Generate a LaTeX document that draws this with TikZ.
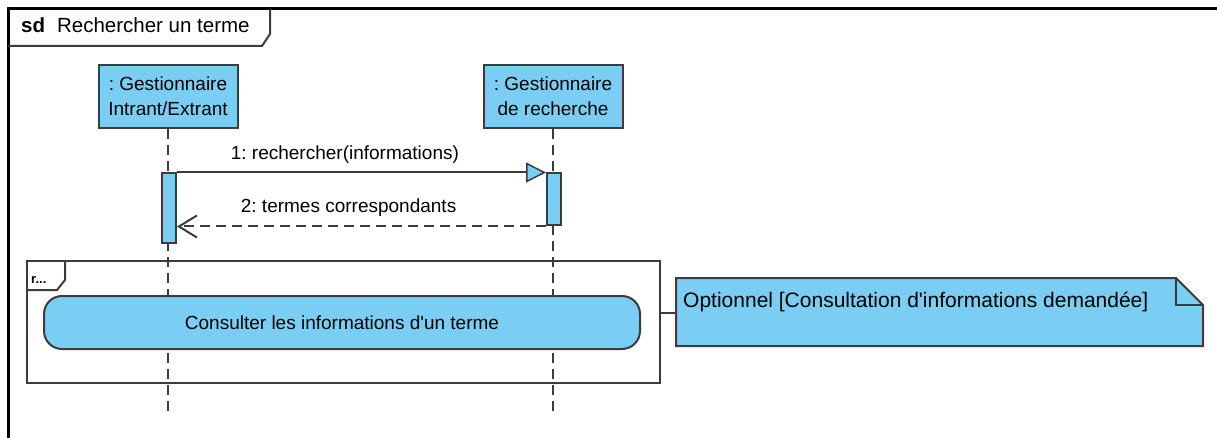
\documentclass[tikz,border=0pt]{standalone}
\usepackage{fontspec}
\setmainfont{Liberation Sans}
\usetikzlibrary{arrows.meta,shapes.geometric}
\definecolor{umlblue}{RGB}{122,206,244}
\definecolor{umlline}{RGB}{60,60,60}
\tikzset{
  lifebox/.style={draw=umlline, fill=umlblue, line width=2pt, align=center, inner sep=0pt, font=\fontsize{19}{25}\selectfont},
  lifeline/.style={draw=umlline, line width=2pt, dash pattern=on 10pt off 6pt},
  actbox/.style={draw=umlline, fill=umlblue, line width=2pt},
  msg/.style={draw=umlline, line width=2pt},
  lbl/.style={font=\fontsize{19}{22}\selectfont, inner sep=0pt},
  framebox/.style={draw=umlline, line width=2pt},
}
\begin{document}
\frenchspacing
\begin{tikzpicture}[x=1pt,y=-1pt]
\useasboundingbox (0,0) rectangle (1217,438);
% outer frame
\draw[line width=3pt] (8,438) -- (8,9) -- (1217,9);
\draw[line width=2pt, umlline] (8,46) -- (262,46) -- (270,34) -- (270,9);
\node[lbl, anchor=base west, font=\fontsize{20.5}{24}\selectfont] (sdlbl) at (21,33) {\textbf{sd}\hspace{12pt}Rechercher un terme};
% lifelines
\node[lifebox, minimum width=139pt, minimum height=63pt] (L1) at (168,96.5) {: Gestionnaire\\Intrant/Extrant};
\node[lifebox, minimum width=139pt, minimum height=63pt] (L2) at (553,96.5) {: Gestionnaire\\de recherche};
\coordinate (E1) at (168,413);
\coordinate (E2) at (553,413);
\draw[lifeline] (L1.south) -- (E1);
\draw[lifeline] (L2.south) -- (E2);
% activations
\node[actbox, minimum width=14pt, minimum height=70pt, inner sep=0pt] (A1) at (169,208.5) {};
\node[actbox, minimum width=14pt, minimum height=52pt, inner sep=0pt] (A2) at (554,199.5) {};
% messages
\draw[msg, -{Triangle[length=20pt,width=20pt,fill=umlblue,line width=1.5pt]}] (A1.north east) -- (A2.north west)
  node[lbl, pos=0.455, above=8pt] (m1) {1: rechercher(informations)};
\draw[msg, dash pattern=on 10pt off 6pt, -{Straight Barb[length=18pt,width=22pt,line width=2pt]}] (A2.south west) -- (A1.east |- A2.south)
  node[lbl, pos=0.535, above=9pt] (m2) {2: termes correspondants};
% ref frame
\node[framebox, minimum width=633pt, minimum height=122pt, inner sep=0pt] (R) at (343.5,322) {};
\draw[line width=2pt, umlline] (R.north west) ++(0,30) -- ++(31,0) -- ++(8,-10) -- ++(0,-20);
\node[lbl, anchor=base west, font=\fontsize{13}{15}\selectfont\bfseries] (rl) at (31,283) {r...};
\node[lifebox, rounded corners=18pt, minimum width=596pt, minimum height=53pt] (C) at (342,322.5) {Consulter les informations d\textquotesingle un terme};
% note
\draw[line width=2pt, draw=umlline, fill=umlblue] (676,278) -- (1176,278) -- (1203,305) -- (1203,346) -- (676,346) -- cycle;
\draw[line width=2pt, draw=umlline] (1176,278) -- (1176,305) -- (1203,305);
\node[lbl, anchor=base west, font=\fontsize{21}{24}\selectfont] (N) at (683,307) {Optionnel [Consultation d\textquotesingle informations demandée]};
\coordinate (Nleft) at (676,313);
\draw[line width=2pt, umlline] (R.east |- Nleft) -- (Nleft);
\end{tikzpicture}
\end{document}
